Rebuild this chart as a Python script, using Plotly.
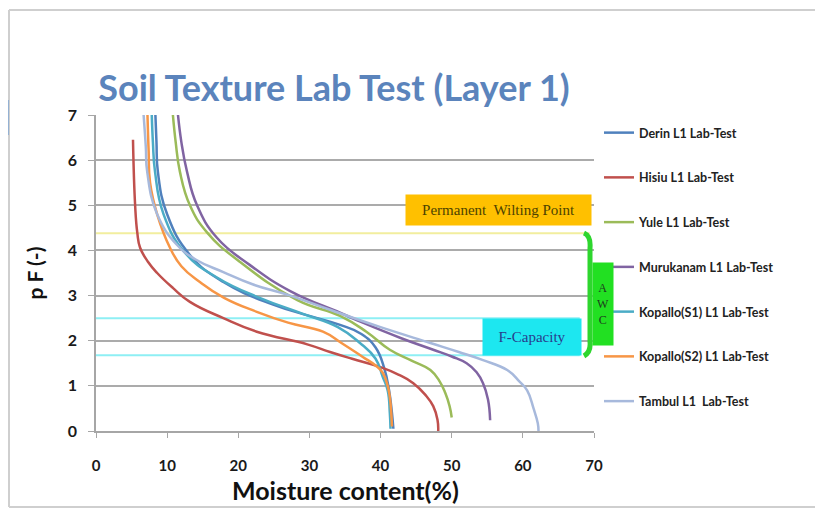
import plotly.graph_objects as go

# ---------------- data ----------------
series_names = ["Derin L1 Lab-Test", "Hisiu L1 Lab-Test", "Yule L1 Lab-Test",
                "Murukanam L1 Lab-Test", "Kopallo(S1) L1 Lab-Test",
                "Kopallo(S2) L1 Lab-Test", "Tambul L1  Lab-Test"]
series_colors = ["#4F81BD", "#C0504D", "#9BBB59", "#8064A2", "#4BACC6", "#F79646", "#A7B9DC"]

derin_x = [8.3, 8.5, 8.7, 10.0, 13.2, 17.9, 24.9, 30.0, 34.3, 37.3, 39.3, 40.5, 41.2, 41.6, 41.8]
derin_y = [7.2, 6.4, 5.74, 4.8, 3.9, 3.3, 2.8, 2.55, 2.35, 2.15, 1.85, 1.4, 0.9, 0.4, 0.05]

hisiu_x = [5.2, 5.5, 5.8, 6.2, 7.3, 8.6, 10.8, 13.2, 17.9, 22.6, 29.7, 32.9, 36.0, 39.9, 42.5, 44.6, 46.3, 47.4, 48.0, 48.1]
hisiu_y = [6.45, 5.0, 4.4, 4.06, 3.75, 3.5, 3.17, 2.86, 2.5, 2.2, 1.92, 1.75, 1.6, 1.42, 1.25, 1.06, 0.8, 0.55, 0.25, 0.0]

yule_x = [10.7, 11.2, 11.8, 13.2, 15.6, 20.2, 28.3, 34.3, 38.0, 41.3, 44.5, 47.0, 48.3, 49.1, 49.7, 50.0]
yule_y = [7.2, 6.4, 5.74, 5.0, 4.4, 3.75, 2.9, 2.55, 2.2, 1.8, 1.55, 1.35, 1.1, 0.84, 0.55, 0.3]

muru_x = [11.4, 12.0, 12.8, 14.2, 17.0, 21.6, 27.3, 34.3, 37.5, 43.0, 47.4, 50.0, 52.1, 53.5, 54.4, 55.1, 55.4]
muru_y = [7.2, 6.4, 5.74, 5.0, 4.28, 3.68, 3.1, 2.62, 2.4, 2.05, 1.8, 1.65, 1.5, 1.3, 1.06, 0.7, 0.24]

kop1_x = [7.8, 8.0, 8.3, 9.5, 12.5, 17.0, 23.0, 29.0, 34.0, 37.1, 39.3, 40.3, 41.0, 41.3, 41.4]
kop1_y = [7.2, 6.4, 5.74, 4.8, 3.95, 3.4, 2.95, 2.6, 2.3, 1.95, 1.6, 1.2, 0.9, 0.4, 0.05]

kop2_x = [7.2, 7.4, 7.6, 8.6, 10.4, 12.0, 14.6, 18.0, 22.6, 27.0, 31.9, 34.5, 37.5, 39.3, 40.3, 41.0, 41.3, 41.5, 41.6]
kop2_y = [7.2, 6.2, 5.5, 4.8, 4.06, 3.65, 3.3, 2.95, 2.64, 2.4, 2.2, 1.95, 1.64, 1.45, 1.29, 1.0, 0.75, 0.4, 0.1]

tamb_x = [6.6, 7.0, 7.2, 8.6, 11.4, 14.0, 17.9, 22.0, 27.3, 33.0, 40.0, 47.0, 51.0, 54.4, 57.8, 59.5, 60.6, 61.5, 62.1, 62.2]
tamb_y = [7.2, 6.3, 5.74, 4.8, 4.12, 3.8, 3.52, 3.25, 3.0, 2.68, 2.3, 1.95, 1.75, 1.57, 1.35, 1.1, 0.9, 0.5, 0.17, 0.0]

series_x = [derin_x, hisiu_x, yule_x, muru_x, kop1_x, kop2_x, tamb_x]
series_y = [derin_y, hisiu_y, yule_y, muru_y, kop1_y, kop2_y, tamb_y]

pwp_pf = 4.38          # permanent wilting point line
fc_pf = [2.5, 1.68]    # field capacity band lines
x_ticks = [0, 10, 20, 30, 40, 50, 60, 70]
y_ticks = [0, 1, 2, 3, 4, 5, 6, 7]

# ---------------- layout helpers (screen pixel -> paper) ----------------
W, H = 823, 509
OFF = 8                       # page body margin
L, R, T, B = 96, 594, 115, 431  # plot area in screen pixels
def px(x): return (x - L) / (R - L)
def py(y): return (B - y) / (B - T)

fig = go.Figure()
for name, col, xs, ys in zip(series_names, series_colors, series_x, series_y):
    fig.add_trace(go.Scatter(x=xs, y=ys, mode="lines", name=name,
                             line=dict(color=col, width=2.5, shape="spline", smoothing=1.3),
                             legendgroup=name))

shapes = []
shapes.append(dict(type="line", xref="x", yref="y", x0=0, x1=69.4, y0=pwp_pf, y1=pwp_pf,
                   line=dict(color="#F2EE9E", width=2), layer="below"))
for v in fc_pf:
    shapes.append(dict(type="line", xref="x", yref="y", x0=0, x1=68.0, y0=v, y1=v,
                       line=dict(color="#8EEFF4", width=2), layer="below"))
# frame
shapes.append(dict(type="line", xref="paper", yref="paper", x0=px(9), x1=px(9), y0=py(507), y1=py(10),
                   line=dict(color="#CFCFCF", width=2)))
shapes.append(dict(type="line", xref="paper", yref="paper", x0=px(9), x1=px(830), y0=py(10), y1=py(10),
                   line=dict(color="#CFCFCF", width=2)))
shapes.append(dict(type="line", xref="paper", yref="paper", x0=px(9), x1=px(830), y0=py(507), y1=py(507),
                   line=dict(color="#CFCFCF", width=2)))
shapes.append(dict(type="rect", xref="paper", yref="paper", x0=px(0), x1=px(9), y0=py(135), y1=py(100),
                   fillcolor="#94B1D3", line=dict(width=0)))
# AWC brace
brace = "M {a},{b} Q {c},{d} {e},{f} L {e},{g} Q {c},{h} {a},{i}".format(
    a=px(584), b=py(233), c=px(591), d=py(236), e=px(590), f=py(248), g=py(342), h=py(352), i=py(356))
shapes.append(dict(type="path", xref="paper", yref="paper", path=brace,
                   line=dict(color="#2ED62E", width=5)))

annotations = [
    dict(xref="paper", yref="paper", x=px(498.5), y=py(210), xanchor="center", yanchor="middle",
         text="Permanent  Wilting Point",
         showarrow=False, bgcolor="#FFC000", width=183, height=28,
         font=dict(family="Liberation Serif", size=15, color="#4D4300")),
    dict(xref="paper", yref="paper", x=px(532), y=py(337), xanchor="center", yanchor="middle",
         text="F-Capacity",
         showarrow=False, bgcolor="#1DE7F0", width=96, height=34,
         font=dict(family="Liberation Serif", size=15, color="#283C8C")),
    dict(xref="paper", yref="paper", x=px(603), y=py(304), xanchor="center", yanchor="middle",
         text="A<br>W<br>C",
         showarrow=False, bgcolor="#22E022", width=18, height=80,
         font=dict(family="Liberation Serif", size=12, color="#1E3A1E")),
    dict(xref="paper", yref="paper", x=px(345), y=py(490), xanchor="center", yanchor="middle",
         text="<b>Moisture content(%)</b>", showarrow=False,
         font=dict(family="Lato", size=25, color="#111111")),
]

fig.update_layout(
    width=W, height=H,
    margin=dict(l=L - OFF, r=W - (R - OFF), t=T - OFF, b=H - (B - OFF), pad=0),
    paper_bgcolor="white", plot_bgcolor="white",
    title=dict(text="Soil Texture Lab Test (Layer 1)", xref="paper", x=px(334), xanchor="center",
               y=1 - (88 - OFF) / H, yanchor="middle",
               font=dict(family="Lato", size=36, color="#5B84BC", weight="bold")),
    xaxis=dict(range=[0, 70], tickvals=x_ticks, showgrid=False, zeroline=False,
               showline=True, linecolor="#A6A6A6", linewidth=1.5,
               ticks="outside", ticklen=5, tickcolor="#A6A6A6", ticklabelstandoff=15,
               tickfont=dict(family="Lato", size=15, color="#1A1A1A", weight="bold")),
    yaxis=dict(range=[0, 7], tickvals=y_ticks, showgrid=True, gridcolor="#ABABAB", gridwidth=1.5,
               zeroline=False, showline=True, linecolor="#A6A6A6", linewidth=1.5,
               ticks="outside", ticklen=6, tickcolor="#A6A6A6", ticklabelstandoff=8,
               tickfont=dict(family="Lato", size=16, color="#1A1A1A", weight="bold"),
               title=dict(text="p F (-)", standoff=18,
                          font=dict(family="Lato", size=21, color="#111111", weight="bold"))),
    legend=dict(x=px(599), y=py(118), xanchor="left", yanchor="top",
                tracegroupgap=25.5, bgcolor="rgba(0,0,0,0)",
                font=dict(family="Lato", size=12.5, color="#222222", weight="bold")),
    shapes=shapes, annotations=annotations,
)

fig.write_html("out.html")
